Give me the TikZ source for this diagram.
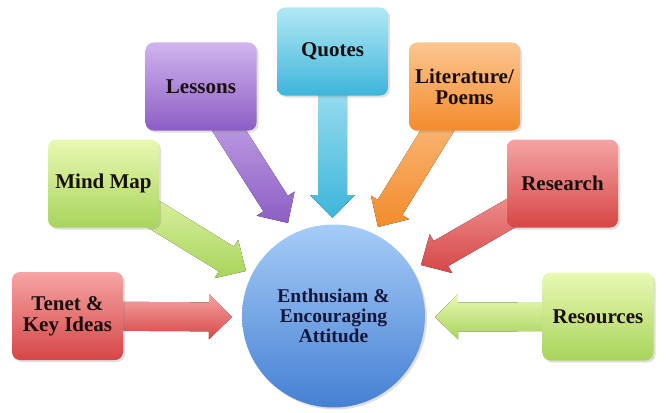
\documentclass[tikz,border=0pt]{standalone}
\usepackage{fontspec}
\setmainfont{Liberation Serif}
\usetikzlibrary{calc,shadows}
\pgfdeclarelayer{bg}
\pgfsetlayers{bg,main}
\definecolor{txt}{HTML}{1A0E0E}
\definecolor{ctxt}{HTML}{14163A}
\definecolor{redT}{HTML}{F6A4A4}\definecolor{redB}{HTML}{D64646}
\definecolor{grnT}{HTML}{E9F8B2}\definecolor{grnB}{HTML}{A8D45C}
\definecolor{purT}{HTML}{D0B4EE}\definecolor{purB}{HTML}{8C5EC4}
\definecolor{cyaT}{HTML}{B2E8F5}\definecolor{cyaB}{HTML}{3DB5DA}
\definecolor{orgT}{HTML}{FCC690}\definecolor{orgB}{HTML}{F38B2C}
\definecolor{bluT}{HTML}{A6CCF7}\definecolor{bluB}{HTML}{4580D3}
\tikzset{
  box/.style={rounded corners=8pt, minimum width=111pt, minimum height=88pt,
    align=center, inner sep=2pt, font=\bfseries\fontsize{21}{21}\selectfont, text=txt,
    drop shadow={opacity=0.25, shadow xshift=2pt, shadow yshift=-2pt}},
  hub/.style={circle, minimum size=183pt, align=center,
    font=\bfseries\fontsize{19.5}{20}\selectfont, text=ctxt,
    top color=bluT, bottom color=bluB,
    drop shadow={opacity=0.25, shadow xshift=2pt, shadow yshift=-2pt}},
}
\newcommand\fatarrow[4]{%
  \fill[top color=#3, bottom color=#4]
    let \p1=($(#2)-(#1)$), \n1={atan2(\y1,\x1)} in
    ($(#1)+(\n1+90:14.5pt)$) --
    ($(#2)!23pt!(#1)+(\n1+90:14.5pt)$) --
    ($(#2)!23pt!(#1)+(\n1+90:22.5pt)$) --
    (#2) --
    ($(#2)!23pt!(#1)+(\n1-90:22.5pt)$) --
    ($(#2)!23pt!(#1)+(\n1-90:14.5pt)$) --
    ($(#1)+(\n1-90:14.5pt)$) -- cycle;}
\begin{document}
\begin{tikzpicture}[x=1pt,y=-1pt]
\useasboundingbox (0,0) rectangle (666,412);
\node[hub] (hub) at (333.5,316) {Enthusiam \&\\Encouraging\\Attitude};
\node[box, top color=redT, bottom color=redB] (tenet) at (67.5,316) {Tenet \&\\Key Ideas};
\node[box, top color=grnT, bottom color=grnB] (mind) at (103.5,183.5) {Mind Map};
\node[box, top color=purT, bottom color=purB] (less) at (201,86.5) {Lessons};
\node[box, top color=cyaT, bottom color=cyaB] (quot) at (332.5,51.5) {Quotes};
\node[box, top color=orgT, bottom color=orgB] (lit) at (464.5,86.5) {Literature/\\Poems};
\node[box, top color=redT, bottom color=redB] (res) at (562.5,183.5) {Research};
\node[box, top color=grnT, bottom color=grnB] (reso) at (598,316.5) {Resources};
\coordinate (tTenet) at (232,317);
\coordinate (tMind) at (246,271);
\coordinate (tLess) at (288,223);
\coordinate (tQuot) at (332.5,218);
\coordinate (tLit) at (378,227);
\coordinate (tRes) at (421,265);
\coordinate (tReso) at (435,317);
\begin{pgfonlayer}{bg}
\fatarrow{tenet}{tTenet}{redT}{redB}
\fatarrow{mind}{tMind}{grnT}{grnB}
\fatarrow{less}{tLess}{purT}{purB}
\fatarrow{quot}{tQuot}{cyaT}{cyaB}
\fatarrow{lit}{tLit}{orgT}{orgB}
\fatarrow{res}{tRes}{redT}{redB}
\fatarrow{reso}{tReso}{grnT}{grnB}
\end{pgfonlayer}
\end{tikzpicture}
\end{document}
